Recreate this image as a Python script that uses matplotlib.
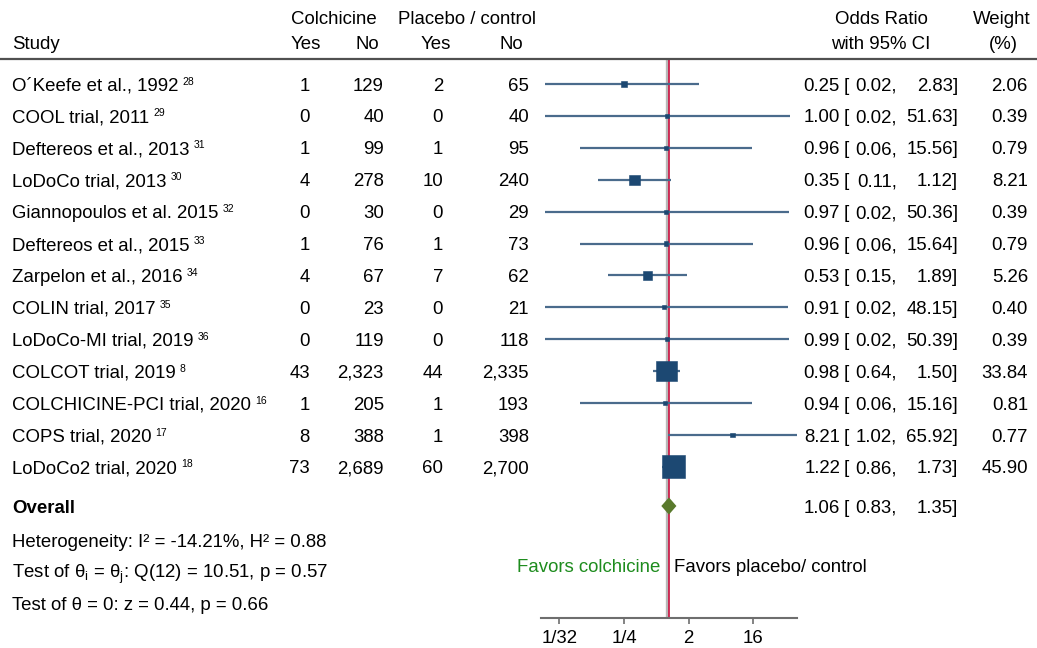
import matplotlib
matplotlib.use("Agg")
import matplotlib.pyplot as plt
import matplotlib.transforms as mtransforms
import numpy as np

plt.rcParams['font.family'] = ['Liberation Sans', 'DejaVu Sans']
plt.rcParams['mathtext.fontset'] = 'custom'
plt.rcParams['mathtext.rm'] = 'Liberation Sans'
plt.rcParams['mathtext.it'] = 'Liberation Sans'

# ---------------- data ----------------
studies = ["O´Keefe et al., 1992", "COOL trial, 2011", "Deftereos et al., 2013",
           "LoDoCo trial, 2013", "Giannopoulos et al. 2015", "Deftereos et al., 2015",
           "Zarpelon et al., 2016", "COLIN trial, 2017", "LoDoCo-MI trial, 2019",
           "COLCOT trial, 2019", "COLCHICINE-PCI trial, 2020", "COPS trial, 2020",
           "LoDoCo2 trial, 2020"]
refs = ["28", "29", "31", "30", "32", "33", "34", "35", "36", "8", "16", "17", "18"]
col_yes = [1, 0, 1, 4, 0, 1, 4, 0, 0, 43, 1, 8, 73]
col_no = [129, 40, 99, 278, 30, 76, 67, 23, 119, 2323, 205, 388, 2689]
pla_yes = [2, 0, 1, 10, 0, 1, 7, 0, 0, 44, 1, 1, 60]
pla_no = [65, 40, 95, 240, 29, 73, 62, 21, 118, 2335, 193, 398, 2700]
or_est = [0.25, 1.00, 0.96, 0.35, 0.97, 0.96, 0.53, 0.91, 0.99, 0.98, 0.94, 8.21, 1.22]
ci_lo = [0.02, 0.02, 0.06, 0.11, 0.02, 0.06, 0.15, 0.02, 0.02, 0.64, 0.06, 1.02, 0.86]
ci_hi = [2.83, 51.63, 15.56, 1.12, 50.36, 15.64, 1.89, 48.15, 50.39, 1.50, 15.16, 65.92, 1.73]
weights = [2.06, 0.39, 0.79, 8.21, 0.39, 0.79, 5.26, 0.40, 0.39, 33.84, 0.81, 0.77, 45.90]
overall_est, overall_lo, overall_hi = 1.06, 0.83, 1.35
tick_vals = [1 / 32, 1 / 4, 2, 16]
tick_labels = ["1/32", "1/4", "2", "16"]
stats_lines = ["Heterogeneity: I² = -14.21%, H² = 0.88",
               "Test of θ$_\\mathregular{i}$ = θ$_\\mathregular{j}$: Q(12) = 10.51, p = 0.57",
               "Test of θ = 0: z = 0.44, p = 0.66"]

# ---------------- layout ----------------
W, H = 1037, 648
fig = plt.figure(figsize=(W / 100, H / 100), dpi=100)

def fx(px):
    return px / W

def fy(py):
    return 1 - py / H

ROW0, ROWSTEP = 84, 31.9
TOP, BOT = 59, 618
ax_left, ax_right = 541, 797
ax = fig.add_axes([fx(ax_left), fy(BOT), (ax_right - ax_left) / W, (BOT - TOP) / H])
ax.set_xscale('log', base=2)
xl = 2 ** ((ax_left - 667.1) / 21.56)
xr = 2 ** ((ax_right - 667.1) / 21.56)
ax.set_xlim(xl, xr)
ax.set_ylim((BOT - ROW0) / ROWSTEP, (TOP - ROW0) / ROWSTEP)
for s in ['top', 'left', 'right']:
    ax.spines[s].set_visible(False)
ax.spines['bottom'].set_color('#6e6e6e')
ax.spines['bottom'].set_linewidth(1.5)
ax.set_yticks([])
ax.set_xticks(tick_vals)
ax.set_xticklabels(tick_labels)
ax.xaxis.set_minor_locator(matplotlib.ticker.NullLocator())
FS = 13.4
ax.tick_params(axis='x', length=4.5, width=1.2, color='#6e6e6e', labelsize=FS, pad=3.8)
ax.patch.set_alpha(0)

rows = np.arange(len(studies))
overall_row = (506 - ROW0) / ROWSTEP

# reference lines
ax.axvline(1, color='#b8b8b8', lw=2.4, zorder=1)
ax.axvline(overall_est, color='#cc1040', lw=1.2, zorder=2)

# CIs and markers
ax.hlines(rows, ci_lo, ci_hi, color='#4a6b8c', lw=1.6, zorder=3)
sizes = [6.0 * w + 6.0 for w in weights]
ax.scatter(or_est, rows, s=sizes, marker='s', color='#1c4872', edgecolor='#1c4872',
           linewidths=0.4, zorder=4)

# overall diamond
dh = 0.27
ax.fill([overall_lo, overall_est, overall_hi, overall_est],
        [overall_row, overall_row - dh, overall_row, overall_row + dh],
        color='#5a7a2c', zorder=5, lw=0)

# ---------------- text ----------------
# text is placed on its baseline, shifted down by half the digit height so that
# the glyphs are centred on the row
shift = mtransforms.ScaledTranslation(0, -6.6 / 100, fig.dpi_scale_trans)
tr = mtransforms.blended_transform_factory(fig.transFigure, ax.transData) + shift
trf = fig.transFigure + shift

def txt(x, y, s, transform=tr, **kw):
    return fig.text(x, y, s, transform=transform, fontsize=kw.pop('fontsize', FS),
                    va='baseline', **kw)

def fmtn(v):
    return f"{v:,}"

def or_text(y, est, lo, hi):
    txt(fx(840), y, f"{est:.2f}", ha='right')
    txt(fx(844), y, "[", ha='left')
    txt(fx(897), y, f"{lo:.2f},", ha='right')
    txt(fx(958), y, f"{hi:.2f}]", ha='right')

name_texts = []
for i in rows:
    name_texts.append(txt(fx(12), i, studies[i], ha='left'))
    txt(fx(310), i, fmtn(col_yes[i]), ha='right')
    txt(fx(384), i, fmtn(col_no[i]), ha='right')
    txt(fx(443), i, fmtn(pla_yes[i]), ha='right')
    txt(fx(529), i, fmtn(pla_no[i]), ha='right')
    or_text(i, or_est[i], ci_lo[i], ci_hi[i])
    txt(fx(1028), i, f"{weights[i]:.2f}", ha='right')

# overall row
txt(fx(12), overall_row, "Overall", ha='left', fontweight='bold')
or_text(overall_row, overall_est, overall_lo, overall_hi)

# headers
txt(fx(334), fy(17), "Colchicine", transform=trf, ha='center')
txt(fx(467), fy(17), "Placebo / control", transform=trf, ha='center')
txt(fx(12), fy(42), "Study", transform=trf, ha='left')
txt(fx(306), fy(42), "Yes", transform=trf, ha='center')
txt(fx(367), fy(42), "No", transform=trf, ha='center')
txt(fx(436), fy(42), "Yes", transform=trf, ha='center')
txt(fx(511), fy(42), "No", transform=trf, ha='center')
txt(fx(881), fy(17), "Odds Ratio", transform=trf, ha='center')
txt(fx(881), fy(42), "with 95% CI", transform=trf, ha='center')
txt(fx(1002), fy(17), "Weight", transform=trf, ha='center')
txt(fx(1003), fy(42), "(%)", transform=trf, ha='center')

# header rule
fig.add_artist(plt.Line2D([0, 1], [fy(59), fy(59)], transform=fig.transFigure,
                          color='#505050', lw=1.6))

# stats
for k, line in enumerate(stats_lines):
    txt(fx(12), fy(540 + k * 31.7), line, transform=trf, ha='left')

# favors
txt(fx(660), fy(565), "Favors colchicine", transform=trf, ha='right', color='#1e8c1e')
txt(fx(674), fy(565), "Favors placebo/ control", transform=trf, ha='left', color='black')

# superscripts
renderer = fig.canvas.get_renderer()
for i, t in enumerate(name_texts):
    bb = t.get_window_extent(renderer)
    fig.text((bb.x1 + 4) / W, bb.y1 / H + 1.0 / H, refs[i], fontsize=7.5, va='top', ha='left')

fig.savefig("out.png", dpi=100)
